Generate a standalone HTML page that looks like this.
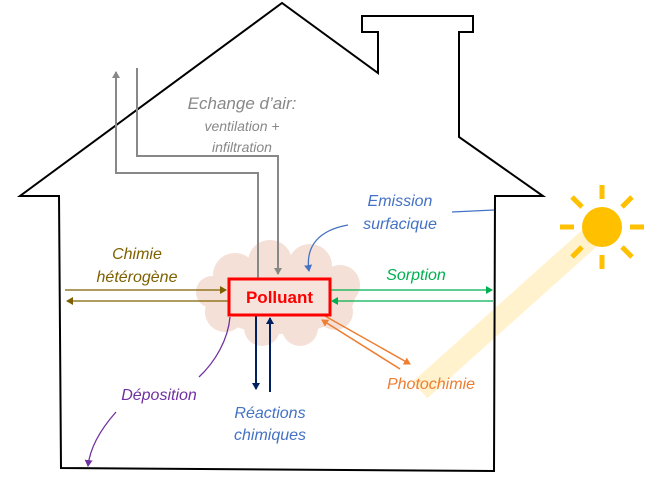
<!DOCTYPE html>
<html><head><meta charset="utf-8"><style>
html,body{margin:0;padding:0;background:#fff}
svg text{font-family:"Liberation Sans","DejaVu Sans",sans-serif;font-style:italic}
</style></head><body>
<svg width="647" height="478" viewBox="0 0 647 478" xmlns="http://www.w3.org/2000/svg">
<defs>
<marker id="ag" markerWidth="8" markerHeight="8" refX="6" refY="4" orient="auto" markerUnits="userSpaceOnUse"><path d="M0,0 L7,4 L0,8z" fill="#888"/></marker>
<marker id="ab" markerWidth="8" markerHeight="8" refX="6" refY="4" orient="auto" markerUnits="userSpaceOnUse"><path d="M0,0 L7,4 L0,8z" fill="#4472c4"/></marker>
<marker id="ao" markerWidth="8" markerHeight="8" refX="6" refY="4" orient="auto" markerUnits="userSpaceOnUse"><path d="M0,0 L7,4 L0,8z" fill="#7f6000"/></marker>
<marker id="agr" markerWidth="8" markerHeight="8" refX="6" refY="4" orient="auto" markerUnits="userSpaceOnUse"><path d="M0,0 L7,4 L0,8z" fill="#00b050"/></marker>
<marker id="an" markerWidth="8" markerHeight="8" refX="6" refY="4" orient="auto" markerUnits="userSpaceOnUse"><path d="M0,0 L7,4 L0,8z" fill="#002060"/></marker>
<marker id="aor" markerWidth="8" markerHeight="8" refX="6" refY="4" orient="auto" markerUnits="userSpaceOnUse"><path d="M0,0 L7,4 L0,8z" fill="#ed7d31"/></marker>
<marker id="ap" markerWidth="8" markerHeight="8" refX="6" refY="4" orient="auto" markerUnits="userSpaceOnUse"><path d="M0,0 L7,4 L0,8z" fill="#7030a0"/></marker>
</defs>
<!-- sun beam -->
<line x1="592" y1="236" x2="420" y2="390" stroke="#fff2cc" stroke-width="22"/>
<!-- house -->
<path d="M59,196 L20,196 L282,3 L378,73 L378,32 L362,32 L362,16 L473,16 L473,32 L459,32 L459,137 L543,196 L495,196 L494,471 L61,468 Z" fill="none" stroke="#000" stroke-width="2" stroke-linejoin="miter"/>
<!-- cloud -->
<g fill="#f4e0d6">
<ellipse cx="280" cy="296" rx="75" ry="38"/>
<circle cx="235" cy="275" r="22"/><circle cx="270" cy="262" r="22"/><circle cx="310" cy="266" r="22"/><circle cx="340" cy="285" r="20"/>
<circle cx="225" cy="312" r="20"/><circle cx="262" cy="328" r="18"/><circle cx="300" cy="328" r="18"/><circle cx="335" cy="312" r="18"/><circle cx="212" cy="292" r="16"/>
</g>
<!-- gray air exchange -->
<path d="M258,278 L258,173 L116,173 L116,72" fill="none" stroke="#888" stroke-width="2" marker-end="url(#ag)"/>
<path d="M137,68 L137,156 L278,156 L278,274" fill="none" stroke="#888" stroke-width="2" marker-end="url(#ag)"/>
<!-- emission -->
<line x1="452" y1="212" x2="494" y2="210" stroke="#4472c4" stroke-width="1.3"/>
<path d="M348,225 C320,230 305,245 309,271" fill="none" stroke="#4472c4" stroke-width="1.3" marker-end="url(#ab)"/>
<!-- chimie hétérogène -->
<line x1="65" y1="290" x2="226" y2="290" stroke="#7f6000" stroke-width="1.3" marker-end="url(#ao)"/>
<line x1="228" y1="301" x2="67" y2="301" stroke="#7f6000" stroke-width="1.3" marker-end="url(#ao)"/>
<!-- sorption -->
<line x1="331" y1="290" x2="492" y2="290" stroke="#00b050" stroke-width="1.3" marker-end="url(#agr)"/>
<line x1="493" y1="301" x2="332" y2="301" stroke="#00b050" stroke-width="1.3" marker-end="url(#agr)"/>
<!-- reactions -->
<line x1="256" y1="316" x2="256" y2="389" stroke="#002060" stroke-width="2" marker-end="url(#an)"/>
<line x1="270" y1="392" x2="270" y2="318" stroke="#002060" stroke-width="2" marker-end="url(#an)"/>
<!-- photochimie -->
<line x1="325" y1="316" x2="410" y2="364" stroke="#ed7d31" stroke-width="1.5" marker-end="url(#aor)"/>
<line x1="400" y1="369" x2="322" y2="320" stroke="#ed7d31" stroke-width="1.5" marker-end="url(#aor)"/>
<!-- deposition -->
<path d="M230,317 C228,340 215,362 199,377" fill="none" stroke="#7030a0" stroke-width="1.3"/>
<path d="M116,412 C100,430 90,448 88,466" fill="none" stroke="#7030a0" stroke-width="1.3" marker-end="url(#ap)"/>
<!-- polluant box -->
<rect x="229" y="279" width="101" height="36" fill="#f5e3dc" stroke="#ff0000" stroke-width="3"/>
<text x="279.5" y="303" text-anchor="middle" font-size="17" font-weight="bold" fill="#ff0000" style="font-style:normal">Polluant</text>
<!-- sun -->
<g stroke="#ffc000" stroke-width="5">
<line x1="602" y1="185" x2="602" y2="199"/><line x1="602" y1="255" x2="602" y2="269"/>
<line x1="560" y1="227" x2="574" y2="227"/><line x1="630" y1="227" x2="644" y2="227"/>
<line x1="572" y1="197" x2="582" y2="207"/><line x1="622" y1="247" x2="632" y2="257"/>
<line x1="632" y1="197" x2="622" y2="207"/><line x1="582" y1="247" x2="572" y2="257"/>
</g>
<circle cx="602" cy="227" r="20" fill="#ffc000"/>
<!-- labels -->
<text x="242" y="109" text-anchor="middle" font-size="17" fill="#888">Echange d’air:</text>
<text x="242" y="131" text-anchor="middle" font-size="14" fill="#888">ventilation +</text>
<text x="242" y="152" text-anchor="middle" font-size="14" fill="#888">infiltration</text>
<text x="400" y="206" text-anchor="middle" font-size="16" fill="#4472c4">Emission</text>
<text x="400" y="229" text-anchor="middle" font-size="16" fill="#4472c4">surfacique</text>
<text x="137" y="259" text-anchor="middle" font-size="16" fill="#7f6000">Chimie</text>
<text x="137" y="282" text-anchor="middle" font-size="16" fill="#7f6000">hétérogène</text>
<text x="416" y="280" text-anchor="middle" font-size="16" fill="#00b050">Sorption</text>
<text x="431" y="389" text-anchor="middle" font-size="16" fill="#ed7d31">Photochimie</text>
<text x="159" y="400" text-anchor="middle" font-size="16" fill="#7030a0">Déposition</text>
<text x="270" y="418" text-anchor="middle" font-size="16" fill="#4472c4">Réactions</text>
<text x="270" y="440" text-anchor="middle" font-size="16" fill="#4472c4">chimiques</text>
</svg>
</body></html>
